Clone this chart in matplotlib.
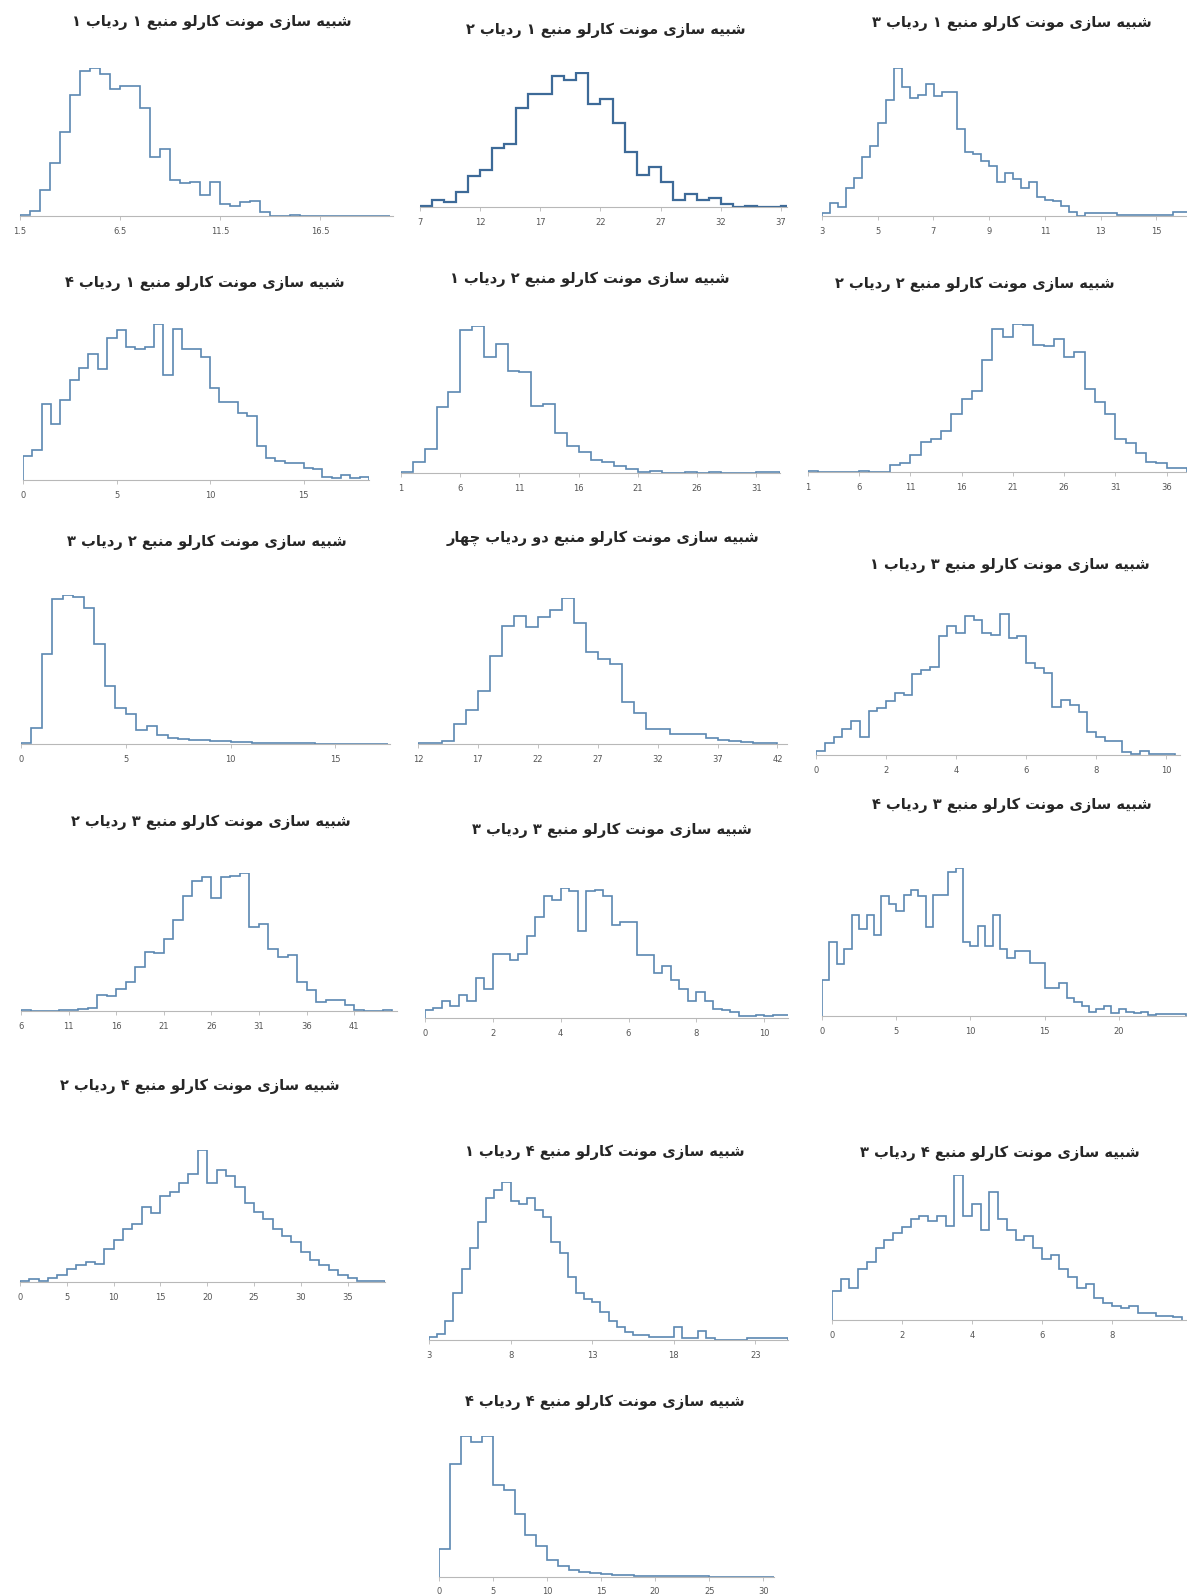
import matplotlib
matplotlib.use("Agg")
import matplotlib.pyplot as plt

# ---- data: relative bin heights (peak = 100) ----
titles = [
    "شبیه سازی مونت کارلو منبع ۱ ردیاب ۱",
    "شبیه سازی مونت کارلو منبع ۱ ردیاب ۲",
    "شبیه سازی مونت کارلو منبع ۱ ردیاب ۳",
    "شبیه سازی مونت کارلو منبع ۱ ردیاب ۴",
    "شبیه سازی مونت کارلو منبع ۲ ردیاب ۱",
    "شبیه سازی مونت کارلو منبع ۲ ردیاب ۲",
    "شبیه سازی مونت کارلو منبع ۲ ردیاب ۳",
    "شبیه سازی مونت کارلو منبع دو ردیاب چهار",
    "شبیه سازی مونت کارلو منبع ۳ ردیاب ۱",
    "شبیه سازی مونت کارلو منبع ۳ ردیاب ۲",
    "شبیه سازی مونت کارلو منبع ۳ ردیاب ۳",
    "شبیه سازی مونت کارلو منبع ۳ ردیاب ۴",
    "شبیه سازی مونت کارلو منبع ۴ ردیاب ۲",
    "شبیه سازی مونت کارلو منبع ۴ ردیاب ۱",
    "شبیه سازی مونت کارلو منبع ۴ ردیاب ۳",
    "شبیه سازی مونت کارلو منبع ۴ ردیاب ۴",
]

s1_t1 = [0.7, 3.6, 17.6, 35.7, 57, 82, 97.7, 100, 96, 86, 88, 88, 73, 40, 45, 24, 22.6, 23,
         14, 23, 8, 7, 9.7, 10, 3, 0, 0, 1, 0.3, 0.3, 0, 0, 0.3, 0, 0.3, 0.3, 0.3]
s1_t2 = [1, 5.4, 3.7, 11, 23, 27.7, 44, 47, 73, 84, 84, 97, 94, 99, 76, 80, 62, 41, 24, 30,
         18.5, 5, 10, 5, 6.7, 2, 0, 0.5, 0, 0, 0.7]
s1_t3 = [2, 8.6, 6, 19, 25.5, 40, 47, 63, 78.6, 100, 87, 80, 82, 89, 81, 84, 84, 59, 43, 42,
         37.5, 34, 23, 29, 25, 19, 23, 13, 11, 10, 6.5, 3, 0, 2, 2, 2, 2, 0.5, 0.5, 0.5, 0.5,
         0.5, 0.5, 0.5, 2.7, 2.7]
s1_t4 = [15.4, 19, 49, 36, 51, 64, 72, 81, 71, 91, 96, 85.5, 84, 85.5, 100, 67, 97, 84, 84,
         79, 59, 50, 50, 43, 41, 22, 14, 12, 11, 11, 7.5, 7, 2, 1, 3, 1, 1.7]
s2_t1 = [0.7, 7.5, 16.6, 45, 55, 97, 100, 79, 87.5, 69.5, 69, 45.5, 47, 27, 18.4, 14.3, 8.6,
         7.5, 5, 3, 0.5, 1.4, 0.2, 0, 1, 0, 0.7, 0, 0, 0, 0.5, 0.5]
s2_t2 = [0.5, 0, 0, 0, 0, 0.7, 0, 0, 4.5, 6, 11.7, 20, 22, 27.5, 39, 49, 55, 75.5, 96.6, 91,
         100, 99, 86, 85, 90, 78, 81, 56, 47, 39, 22, 19.6, 13, 7, 6, 3, 3]
s2_t3 = [1, 11, 60.5, 97, 100, 98.6, 91, 67, 39, 24, 20, 9.5, 12, 6, 4, 3.5, 3, 2.5, 2, 2,
         1.5, 1.5, 1, 1, 0.5, 0.5, 0.5, 0.5, 0.3, 0.3, 0.3, 0.3, 0.3, 0.3, 0.3]
s2_t4 = [0.5, 1, 2, 14, 23, 36, 60, 81, 88, 80, 87, 92, 100, 83, 63, 58, 55, 28.5, 21, 10,
         10, 7, 7, 7, 4, 3, 2, 1.5, 1, 0.5]
s3_t1 = [3, 8.5, 13, 18, 24, 13, 30.7, 33, 38, 44, 42, 57, 60, 62, 84, 91, 85.6, 98, 95,
         85.6, 84.7, 99, 82.5, 84, 64.5, 61, 58, 34, 39, 35, 30, 16, 13, 9.7, 9.7, 2, 0.5,
         3, 0.5, 0.5, 0.5]
s3_t2 = [0.5, 0, 0, 0, 0.5, 0.5, 1.2, 2.4, 11.4, 10.7, 16, 21, 32, 43, 42, 52, 66, 83.5, 94,
         97, 82, 97, 98, 100, 61, 63, 44.7, 39, 40.5, 21, 15, 6.5, 7.8, 7.8, 4, 0.5, 0, 0,
         0.5]
s3_t3 = [6, 7.7, 13, 9, 17.4, 12.8, 31, 22, 49, 49, 45, 49, 63, 78, 93.6, 91, 100, 97.4,
         66.7, 98, 98.7, 93.6, 71.8, 74, 74, 48.7, 48.7, 35, 39.7, 29.5, 22.6, 12.8, 19.7,
         12.8, 7, 6.4, 4.4, 1.8, 1.8, 2.6, 1.3, 2.6, 2.6]
s3_t4 = [24.4, 50, 35, 45, 68.4, 59, 68.4, 55, 81, 76, 71, 82, 85, 81, 60, 82, 82, 97, 100,
         50, 47, 60.5, 47, 68.4, 45, 39, 43.6, 43.6, 35.7, 35.7, 18.7, 18.7, 22, 12, 9.7, 6.8,
         3, 5, 6.8, 1.8, 5, 3, 1.8, 3, 0.7, 1.4, 1.4, 1.4, 1.4]
s4_t2 = [1, 2, 1, 3, 5, 10, 13, 15, 14, 25, 32, 40, 44, 57, 52, 65, 68, 75, 82, 100, 75, 85,
         80, 72, 60, 53, 48, 40, 35, 30, 23, 17, 13, 9, 5, 3, 1, 0.5, 0.5]
s4_t1 = [2, 4, 12, 30, 45, 58, 75, 90, 95, 100, 88, 86, 90, 82, 78, 62, 55, 40, 30, 26, 24,
         18, 12, 8, 5, 3, 3, 2, 2, 2, 8, 1, 1, 6, 1, 0, 0, 0, 0, 1, 1, 1, 1, 1]
s4_t3 = [20, 28, 22, 35, 40, 50, 55, 60, 64, 70, 72, 68, 72, 65, 100, 72, 80, 62, 88, 70,
         62, 55, 58, 50, 42, 45, 35, 30, 22, 25, 15, 12, 10, 8, 10, 5, 5, 3, 3, 2]
s4_t4 = [20, 80, 100, 96, 100, 65, 62, 45, 30, 22, 12, 8, 5, 3.5, 2.5, 2, 1.5, 1.5, 1, 1, 1,
         0.5, 0.5, 0.5, 0.5, 0.3, 0.3, 0.3, 0.3, 0.3, 0.3]

series = [s1_t1, s1_t2, s1_t3, s1_t4, s2_t1, s2_t2, s2_t3, s2_t4,
          s3_t1, s3_t2, s3_t3, s3_t4, s4_t2, s4_t1, s4_t3, s4_t4]
bin_start = [1.5, 7, 3, 0, 1, 1, 0, 12.0, 0, 6, 0, 0, 0, 3, 0, 0]
bin_width = [0.5, 1, 0.286, 0.5, 1, 1, 0.5, 1, 0.25, 1, 0.25, 0.5, 1, 0.5, 0.25, 1]
x_max = [20.15, 37.5, 16.1, 18.5, 33, 38, 17.6, 42.8, 10.4, 45.5, 10.7, 24.6, 39, 25, 10.15, 31]
tick_labels = [
    [1.5, 6.5, 11.5, 16.5], [7, 12, 17, 22, 27, 32, 37], [3, 5, 7, 9, 11, 13, 15],
    [0, 5, 10, 15], [1, 6, 11, 16, 21, 26, 31], [1, 6, 11, 16, 21, 26, 31, 36],
    [0, 5, 10, 15], [12, 17, 22, 27, 32, 37, 42], [0, 2, 4, 6, 8, 10],
    [6, 11, 16, 21, 26, 31, 36, 41], [0, 2, 4, 6, 8, 10], [0, 5, 10, 15, 20],
    [0, 5, 10, 15, 20, 25, 30, 35], [3, 8, 13, 18, 23], [0, 2, 4, 6, 8],
    [0, 5, 10, 15, 20, 25, 30],
]

# ---- layout in pixels: x of axis start, x of axis end, baseline y, y of peak, title x, title y
layout = [
    (20, 393, 216, 68, 212, 22), (420, 787, 207, 72, 606, 30), (822, 1187, 216, 68, 1012, 23),
    (23, 369, 480, 324, 205, 283), (401, 780, 473, 326, 590, 279), (808, 1187, 472, 324, 975, 284),
    (21, 390, 744, 595, 207, 542), (418, 787, 744, 598, 603, 538), (816, 1180, 755, 613, 1010, 565),
    (21, 397, 1011, 873, 211, 822), (425, 788, 1018, 888, 612, 830), (822, 1187, 1016, 868, 1012, 805),
    (20, 385, 1282, 1150, 200, 1086), (429, 788, 1340, 1182, 605, 1152), (832, 1187, 1320, 1175, 1000, 1153),
    (439, 774, 1577, 1436, 605, 1402),
]

W, H = 1187, 1595
LINE = "#5b88b2"

FORMS = {
    "ا": ("\uFE8D", "\uFE8E", None, None),
    "ب": ("\uFE8F", "\uFE90", "\uFE91", "\uFE92"),
    "ت": ("\uFE95", "\uFE96", "\uFE97", "\uFE98"),
    "چ": ("\uFB7A", "\uFB7B", "\uFB7C", "\uFB7D"),
    "ه": ("\uFEE9", "\uFEEA", "\uFEEB", "\uFEEC"),
    "د": ("\uFEA9", "\uFEAA", None, None),
    "ر": ("\uFEAD", "\uFEAE", None, None),
    "ز": ("\uFEAF", "\uFEB0", None, None),
    "س": ("\uFEB1", "\uFEB2", "\uFEB3", "\uFEB4"),
    "ش": ("\uFEB5", "\uFEB6", "\uFEB7", "\uFEB8"),
    "ع": ("\uFEC9", "\uFECA", "\uFECB", "\uFECC"),
    "ک": ("\uFB8E", "\uFB8F", "\uFB90", "\uFB91"),
    "ل": ("\uFEDD", "\uFEDE", "\uFEDF", "\uFEE0"),
    "م": ("\uFEE1", "\uFEE2", "\uFEE3", "\uFEE4"),
    "ن": ("\uFEE5", "\uFEE6", "\uFEE7", "\uFEE8"),
    "و": ("\uFEED", "\uFEEE", None, None),
    "ی": ("\uFBFC", "\uFBFD", "\uFBFE", "\uFBFF"),
}


def shape_rtl(text):
    """Pick contextual Arabic glyph forms and reverse to visual order."""
    out = []
    for i, ch in enumerate(text):
        f = FORMS.get(ch)
        if f is None:
            out.append(ch)
            continue
        prev = text[i - 1] if i > 0 else ""
        nxt = text[i + 1] if i < len(text) - 1 else ""
        join_prev = prev in FORMS and FORMS[prev][2] is not None
        join_next = f[2] is not None and nxt in FORMS
        if join_prev and join_next:
            out.append(f[3])
        elif join_prev:
            out.append(f[1])
        elif join_next:
            out.append(f[2])
        else:
            out.append(f[0])
    return "".join(reversed(out))


fig = plt.figure(figsize=(W / 100, H / 100), dpi=100)

for i, counts in enumerate(series):
    x0, x1, base, top, tx, ty = layout[i]
    ax = fig.add_axes([x0 / W, 1 - base / H, (x1 - x0) / W, (base - top) / H])
    edges = [bin_start[i] + k * bin_width[i] for k in range(len(counts) + 1)]
    # panel 2 is drawn darker and heavier in the original
    color, lw = ("#3d6a98", 1.6) if i == 1 else (LINE, 1.2)
    ax.stairs(counts, edges, color=color, linewidth=lw, baseline=0)
    ax.set_xlim(tick_labels[i][0], x_max[i])
    ax.set_ylim(0, 100)
    for side in ("left", "right", "top"):
        ax.spines[side].set_visible(False)
    ax.spines["bottom"].set_color("#b8b8b8")
    ax.spines["bottom"].set_linewidth(0.8)
    ax.set_yticks([])
    ax.set_xticks(tick_labels[i])
    ax.set_xticklabels([f"{t:g}" for t in tick_labels[i]])
    ax.tick_params(axis="x", length=3, width=0.6, color="#b8b8b8", labelsize=6,
                   labelcolor="#555555", pad=4 if i == 15 else 5)
    fig.text(tx / W, 1 - ty / H, shape_rtl(titles[i]), ha="center", va="center",
             fontsize=10.5, fontweight="bold", color="#262626", family="DejaVu Sans")

fig.savefig("out.png", dpi=100)
